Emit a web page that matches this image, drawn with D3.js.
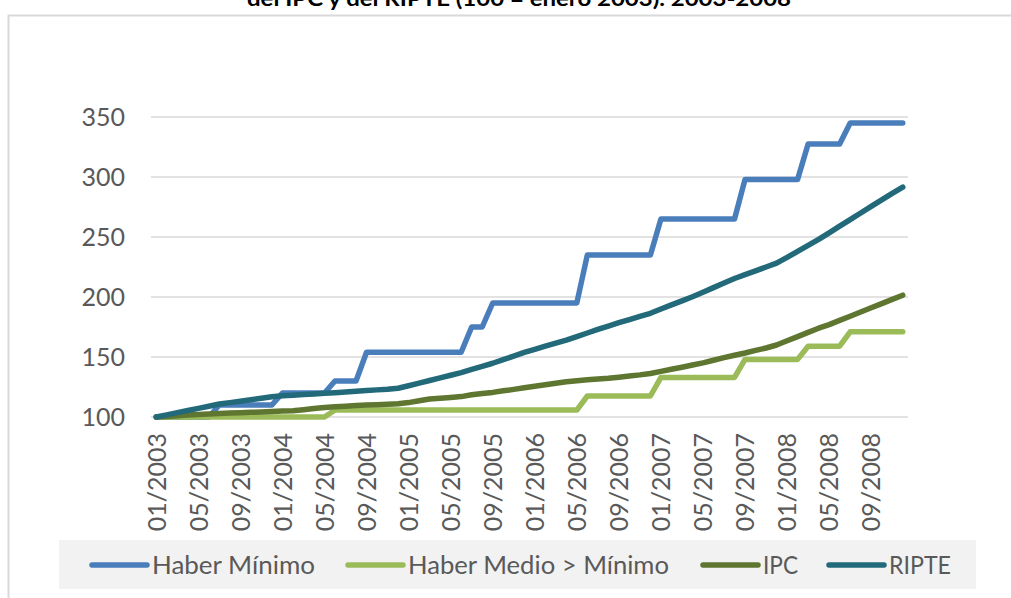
<!DOCTYPE html>
<html>
<head>
<meta charset="utf-8">
<script src="https://cdn.jsdelivr.net/npm/d3@7"></script>
<style>
  body { margin: 0; background: #fff; }
  text { font-family: Lato, "Open Sans", sans-serif; }
</style>
</head>
<body>
<div id="chart"></div>
<script>
var width = 1011,
  height = 598;

// monthly categories 01/2003 .. 12/2008
var months = d3.range(72).map(function (i) {
  var m = (i % 12) + 1, y = 2003 + Math.floor(i / 12);
  return (m < 10 ? "0" + m : "" + m) + "/" + y;
});
var tickLabels = ["01/2003", "05/2003", "09/2003", "01/2004", "05/2004", "09/2004",
  "01/2005", "05/2005", "09/2005", "01/2006", "05/2006", "09/2006",
  "01/2007", "05/2007", "09/2007", "01/2008", "05/2008", "09/2008"];
var yTicks = [100, 150, 200, 250, 300, 350];

var seriesNames = ["Haber Mínimo", "Haber Medio > Mínimo", "IPC", "RIPTE"];
var seriesColors = ["#4a7ebb", "#9bbb59", "#5e7630", "#22697a"];

var haberMinimo = [
  100, 100, 100, 100, 100, 100, 110, 110, 110, 110, 110, 110,
  120, 120, 120, 120, 120, 130, 130, 130, 154, 154, 154, 154,
  154, 154, 154, 154, 154, 154, 175, 175, 195, 195, 195, 195,
  195, 195, 195, 195, 195, 235, 235, 235, 235, 235, 235, 235,
  265, 265, 265, 265, 265, 265, 265, 265, 298, 298, 298, 298,
  298, 298, 327.5, 327.5, 327.5, 327.5, 345, 345, 345, 345, 345, 345];
var haberMedio = [
  100, 100, 100, 100, 100, 100, 100, 100, 100, 100, 100, 100,
  100, 100, 100, 100, 100, 105.8, 105.8, 105.8, 105.8, 105.8, 105.8, 105.8,
  105.8, 105.8, 105.8, 105.8, 105.8, 105.8, 105.8, 105.8, 105.8, 105.8, 105.8, 105.8,
  105.8, 105.8, 105.8, 105.8, 105.8, 117.5, 117.5, 117.5, 117.5, 117.5, 117.5, 117.5,
  133, 133, 133, 133, 133, 133, 133, 133, 148, 148, 148, 148,
  148, 148, 159, 159, 159, 159, 171, 171, 171, 171, 171, 171];
var ipc = [
  100, 100.5, 101, 101.6, 102.1, 102.6, 103, 103.3, 103.6, 103.9, 104.2, 104.5,
  104.9, 105.3, 106.1, 107, 107.9, 108.5, 109, 109.5, 109.9, 110.3, 110.7, 111,
  112, 113.5, 115, 115.6, 116.3, 117, 118.5, 119.6, 120.5, 121.8, 123, 124.3,
  125.6, 126.8, 128.1, 129.4, 130.2, 131, 131.6, 132.3, 133.2, 134.2, 135.1, 136.3,
  138, 139.8, 141.5, 143.3, 145.1, 147.3, 149.5, 151.5, 153.3, 155.5, 157.5, 160,
  163.5, 167, 170.5, 174, 177, 180.5, 184, 187.5, 191, 194.5, 198, 201.5];
var ripte = [
  100, 101.8, 103.6, 105.4, 107.2, 109, 110.8, 112, 113.2, 114.4, 115.6, 116.9,
  117.7, 118.2, 118.7, 119.2, 119.7, 120.2, 120.8, 121.4, 122, 122.6, 123.2, 124,
  126, 128.2, 130.4, 132.6, 134.8, 137, 139.6, 142.2, 144.8, 147.8, 150.8, 153.8,
  156.4, 159, 161.5, 164, 167, 170, 173, 175.8, 178.6, 181.2, 183.8, 186.4,
  190, 193.4, 196.8, 200.2, 204, 207.8, 211.6, 215.4, 218.6, 221.8, 225, 228.2,
  233, 238, 243, 248, 253.5, 259, 264.5, 270, 275.5, 281, 286.3, 291.5];

var seriesData = [haberMinimo, haberMedio, ipc, ripte];

var svg = d3.select("#chart")
  .append("svg")
  .attr("width", width)
  .attr("height", height);

// frame
svg.append("rect")
  .attr("x", 8.5).attr("y", 15.5)
  .attr("width", 1020).attr("height", 620)
  .attr("fill", "none")
  .attr("stroke", "#d9d9d9")
  .attr("stroke-width", 2);

// title (cut at the top of the picture)
svg.append("text")
  .attr("x", 519).attr("y", 6)
  .attr("text-anchor", "middle")
  .attr("font-weight", "bold")
  .attr("font-size", 21)
  .attr("textLength", 544)
  .attr("lengthAdjust", "spacingAndGlyphs")
  .attr("fill", "#000")
  .text("del IPC y del RIPTE (100 = enero 2003). 2003-2008");

var x = d3.scalePoint()
  .domain(months)
  .range([151, 908])
  .padding(0.5);

var y = d3.scaleLinear()
  .domain([100, 350])
  .range([417, 117]);

// grid
svg.append("g").selectAll("line")
  .data(yTicks)
  .enter().append("line")
  .attr("x1", 151).attr("x2", 908)
  .attr("y1", function (d) { return y(d); })
  .attr("y2", function (d) { return y(d); })
  .attr("stroke", "#d9d9d9")
  .attr("stroke-width", 1.5);

// y labels
var yAxis = d3.axisLeft(y).tickValues(yTicks).tickSize(0).tickPadding(0);
var gy = svg.append("g")
  .attr("transform", "translate(125,0)")
  .call(yAxis);
gy.select(".domain").remove();
gy.selectAll("text")
  .attr("font-family", "Lato, sans-serif")
  .attr("font-size", 25)
  .attr("fill", "#595959");

// x labels
var xAxis = d3.axisBottom(x).tickValues(tickLabels).tickSize(0).tickPadding(0);
var gx = svg.append("g")
  .attr("transform", "translate(0,433)")
  .call(xAxis);
gx.select(".domain").remove();
gx.selectAll("text")
  .attr("font-family", "Lato, sans-serif")
  .attr("font-size", 25)
  .attr("fill", "#595959")
  .attr("text-anchor", "end")
  .attr("transform", "rotate(-90)")
  .attr("x", 0)
  .attr("y", 0)
  .attr("dy", "0.35em");

// lines
var line = d3.line()
  .x(function (d, i) { return x(months[i]); })
  .y(function (d) { return y(d); });

svg.append("g").selectAll("path")
  .data(seriesData)
  .enter().append("path")
  .attr("d", line)
  .attr("fill", "none")
  .attr("stroke", function (d, i) { return seriesColors[i]; })
  .attr("stroke-width", 5.5)
  .attr("stroke-linecap", "round")
  .attr("stroke-linejoin", "round");

// legend
var legendX = [92, 348, 703, 829];
var legendW = [163, 261, 35, 62];

svg.append("rect")
  .attr("x", 59).attr("y", 540)
  .attr("width", 917).attr("height", 49)
  .attr("fill", "#f2f2f2");

var lg = svg.append("g").selectAll("g")
  .data(seriesNames)
  .enter().append("g")
  .attr("transform", function (d, i) { return "translate(" + legendX[i] + ",565)"; });

lg.append("line")
  .attr("x1", 0).attr("x2", 55)
  .attr("stroke", function (d, i) { return seriesColors[i]; })
  .attr("stroke-width", 5.5)
  .attr("stroke-linecap", "round");

lg.append("text")
  .attr("x", 60)
  .attr("dy", "0.35em")
  .attr("font-size", 25)
  .attr("fill", "#595959")
  .attr("textLength", function (d, i) { return legendW[i]; })
  .attr("lengthAdjust", "spacingAndGlyphs")
  .text(function (d) { return d; });
</script>
</body>
</html>
